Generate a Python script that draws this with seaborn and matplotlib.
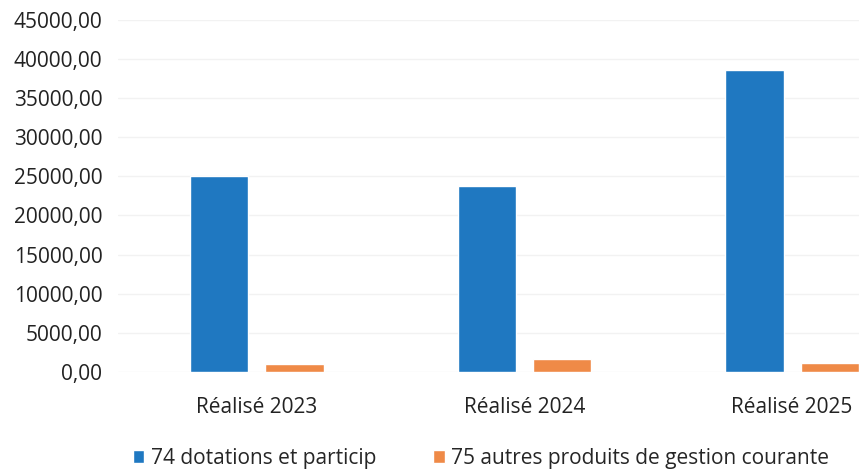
import pandas as pd
import seaborn as sns
import matplotlib.pyplot as plt
from matplotlib.ticker import FuncFormatter

years = ['Réalisé 2023', 'Réalisé 2024', 'Réalisé 2025']
series = ['74 dotations et particip', '75 autres produits de gestion courante']
dotations = [25000, 23700, 38600]
autres = [1000, 1650, 1150]
colors = ['#1f78c1', '#ef8a47']

df = pd.DataFrame({'annee': years * 2,
                   'serie': [series[0]] * 3 + [series[1]] * 3,
                   'valeur': dotations + autres})

sns.set_style('white')
plt.rcParams['font.family'] = ['Open Sans', 'DejaVu Sans']

fig = plt.figure(figsize=(8.59, 4.72), dpi=100)
ax = fig.add_axes([0.137, 0.212, 0.863, 0.746])

sns.barplot(data=df, x='annee', y='valeur', hue='serie', palette=colors,
            width=0.564, gap=0.227, saturation=1, ax=ax)

ax.set_ylim(0, 45000)
ax.set_yticks(range(0, 45001, 5000))
ax.yaxis.set_major_formatter(FuncFormatter(lambda v, p: f'{v:.2f}'.replace('.', ',')))
ax.set_xlim(-0.52, 2.25)
ax.grid(axis='y', color='#f2f2f2', lw=1)
ax.set_axisbelow(True)
for s in ax.spines.values():
    s.set_visible(False)
ax.set_xlabel('')
ax.set_ylabel('')
ax.tick_params(axis='y', labelsize=15, pad=11, colors='#222222', length=0)
ax.tick_params(axis='x', labelsize=15, pad=18, colors='#222222', length=0)

handles, labels = ax.get_legend_handles_labels()
ax.legend(handles, labels, loc='center', bbox_to_anchor=(0.49, -0.245),
          ncol=2, frameon=False, fontsize=15, handlelength=0.55, handleheight=0.55,
          handletextpad=0.3, columnspacing=2.75)

plt.savefig('out.png', dpi=100)
